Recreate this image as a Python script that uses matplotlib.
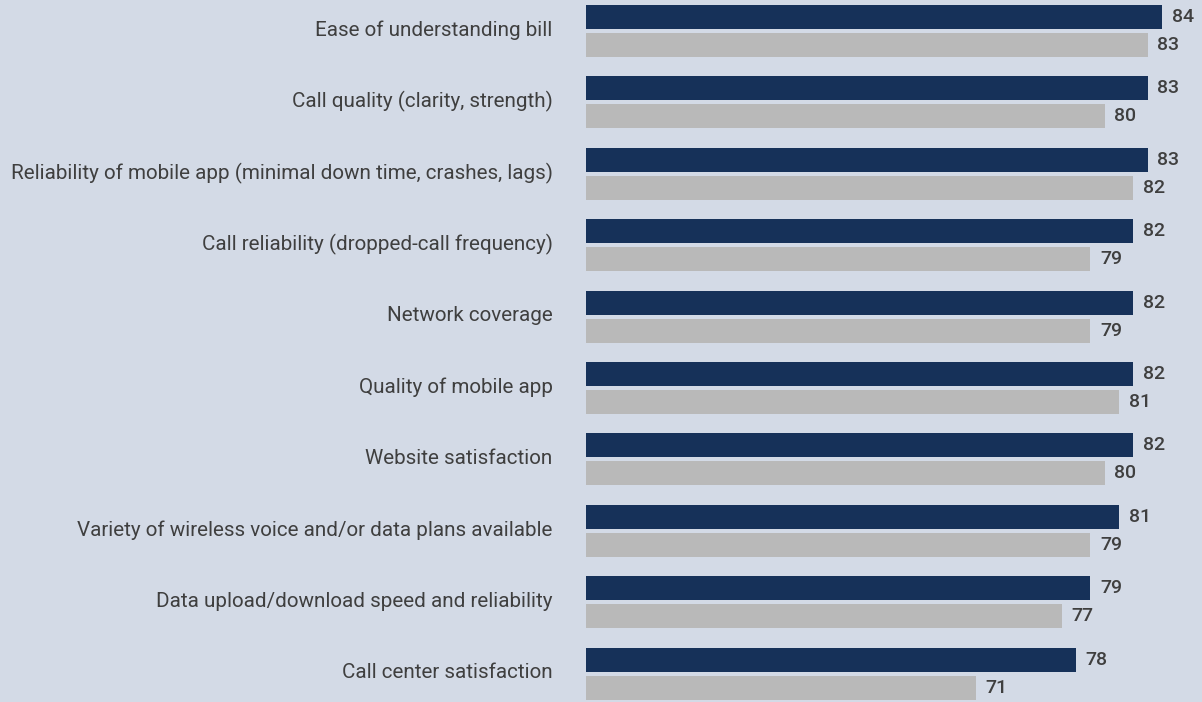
import numpy as np
import matplotlib
matplotlib.use('Agg')
import matplotlib.pyplot as plt
from matplotlib.transforms import ScaledTranslation

categories = ['Ease of understanding bill',
              'Call quality (clarity, strength)',
              'Reliability of mobile app (minimal down time, crashes, lags)',
              'Call reliability (dropped-call frequency)',
              'Network coverage',
              'Quality of mobile app',
              'Website satisfaction',
              'Variety of wireless voice and/or data plans available',
              'Data upload/download speed and reliability',
              'Call center satisfaction']
series_a = [84, 83, 83, 82, 82, 82, 82, 81, 79, 78]
series_b = [83, 80, 82, 79, 79, 81, 80, 79, 77, 71]

BG = '#d3dae6'
NAVY = '#163159'
GREY = '#b9b9b9'
TXT = '#3f3f3f'

plt.rcParams['font.family'] = ['Roboto', 'DejaVu Sans']

fig = plt.figure(figsize=(12.02, 7.02), dpi=100, facecolor=BG)
ax = fig.add_axes([586 / 1202, 0, 1 - 586 / 1202, 1])
ax.set_facecolor(BG)

y = np.arange(len(categories))
h = 24 / 71.4
off = 14 / 71.4
ax.barh(y - off, series_a, height=h, color=NAVY)
ax.barh(y + off, series_b, height=h, color=GREY)

# value labels just right of each bar
for yy, v in zip(y - off, series_a):
    ax.annotate(str(v), (v, yy), xytext=(7, 0), textcoords='offset points',
                va='center', ha='left', fontsize=14, color=TXT, fontweight='medium')
for yy, v in zip(y + off, series_b):
    ax.annotate(str(v), (v, yy), xytext=(7, 0), textcoords='offset points',
                va='center', ha='left', fontsize=14, color=TXT, fontweight='medium')

ax.set_xlim(43.8, 43.8 + 616 / 14.33)
ax.set_ylim(9.398, -0.434)
ax.set_yticks(y)
ax.set_yticklabels(categories, fontsize=14.9, color=TXT)
ax.tick_params(axis='y', length=0, pad=24)
shift = ScaledTranslation(0, 3 / 100, fig.dpi_scale_trans)
for lbl in ax.get_yticklabels():
    lbl.set_transform(lbl.get_transform() + shift)
ax.set_xticks([])
for s in ax.spines.values():
    s.set_visible(False)

fig.savefig('out.png', dpi=100, facecolor=BG)
